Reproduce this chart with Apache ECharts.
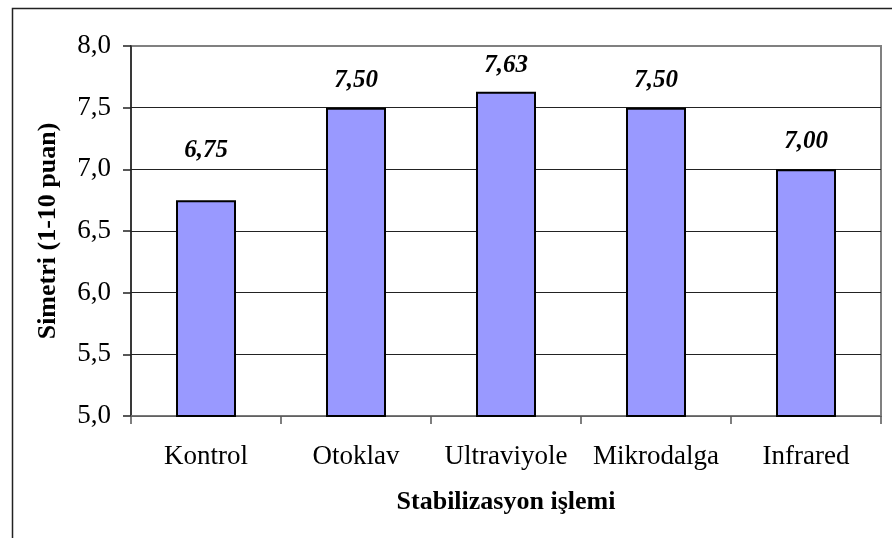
<!DOCTYPE html>
<html>
<head>
<meta charset="utf-8">
<script src="https://cdn.jsdelivr.net/npm/echarts@6/dist/echarts.min.js"></script>
<style>
	html, body { margin: 0; padding: 0; background: #fff; }
	#main { width: 892px; height: 538px; }
</style>
</head>
<body>
<div id="main"></div>
<script>
// 数据
var categories = ['Kontrol', 'Otoklav', 'Ultraviyole', 'Mikrodalga', 'Infrared'];
var values = [6.75, 7.50, 7.63, 7.50, 7.00];
var yTicks = { min: 5.0, max: 8.0, interval: 0.5 };

var fontFamily = "'Liberation Serif', 'Times New Roman', serif";

function comma(v, d) {
	return Number(v).toFixed(d).replace('.', ',');
}

// 标签离柱子的距离（Kontrol 的标签在原图里放得更高）
var labelDistance = [37, 15, 14, 15, 15];

var barData = [];
values.forEach(function(v, i) {
	barData.push({ value: v, label: { distance: labelDistance[i] } });
});

var myChart = echarts.init(document.getElementById('main'));

var option = {
	backgroundColor: '#fff',
	animation: false,
	textStyle: { fontFamily: fontFamily, color: '#000' },
	// 外框
	graphic: [{
		type: 'rect',
		left: 10,
		top: 6,
		shape: { width: 900, height: 600 },
		style: { fill: 'none', stroke: '#222', lineWidth: 1.5 },
		silent: true
	}],
	grid: {
		left: 131,
		top: 46,
		right: 11,
		bottom: 122,
		show: true,
		borderColor: '#808080',
		borderWidth: 2
	},
	xAxis: {
		type: 'category',
		data: categories,
		name: 'Stabilizasyon işlemi',
		nameLocation: 'middle',
		nameGap: 73,
		nameTextStyle: { fontSize: 26, fontWeight: 'bold', fontFamily: fontFamily, color: '#000' },
		axisLine: { lineStyle: { color: '#777', width: 1.5 } },
		axisTick: { show: true, length: 8, lineStyle: { color: '#555', width: 1.5 } },
		axisLabel: { interval: 0, fontSize: 27, margin: 27, color: '#000', fontFamily: fontFamily }
	},
	yAxis: {
		type: 'value',
		min: yTicks.min,
		max: yTicks.max,
		interval: yTicks.interval,
		name: 'Simetri (1-10 puan)',
		nameLocation: 'middle',
		nameGap: 70,
		nameTextStyle: { fontSize: 26, fontWeight: 'bold', fontFamily: fontFamily, color: '#000' },
		axisLine: { show: true, lineStyle: { color: '#222', width: 1.5 } },
		axisTick: { show: true, length: 8, lineStyle: { color: '#222', width: 1.5 } },
		axisLabel: {
			fontSize: 27,
			margin: 20,
			color: '#000',
			fontFamily: fontFamily,
			formatter: function(v) { return comma(v, 1); }
		},
		splitLine: {
			lineStyle: {
				color: ['#222', '#222', '#222', '#222', '#222', '#222', '#808080'],
				width: 1
			}
		}
	},
	series: [{
		type: 'bar',
		data: barData,
		barWidth: 60,
		itemStyle: { color: '#9999ff', borderColor: '#000', borderWidth: 2 },
		label: {
			show: true,
			position: 'top',
			distance: 15,
			fontSize: 25,
			fontWeight: 'bold',
			fontStyle: 'italic',
			fontFamily: fontFamily,
			color: '#000',
			formatter: function(p) { return comma(p.value, 2); }
		}
	}]
};

myChart.setOption(option);
</script>
</body>
</html>
